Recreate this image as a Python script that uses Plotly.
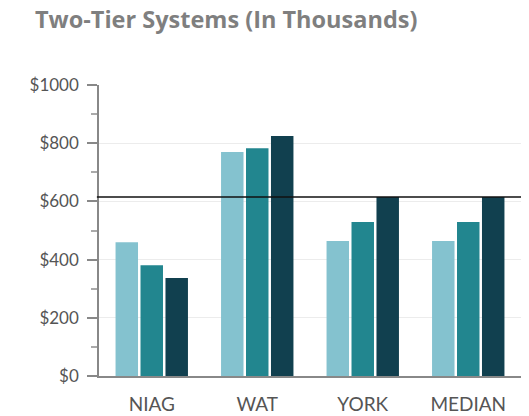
import plotly.graph_objects as go

categories = ["NIAG", "WAT", "YORK", "MEDIAN"]
series_a = [460, 770, 464, 464]
series_b = [381, 783, 529, 529]
series_c = [337, 825, 615, 615]
reference_line = 615
y_ticks = [0, 200, 400, 600, 800, 1000]
y_tick_labels = ["$0", "$200", "$400", "$600", "$800", "$1000"]
title_text = "Two-Tier Systems (In Thousands)"

colors = ["#84c2cf", "#22868f", "#11404f"]

W, H = 529, 416
ML, MR, MT, MB = 99, 8, 85, 40
fig = go.Figure()
for vals, col in zip([series_a, series_b, series_c], colors):
    fig.add_trace(go.Bar(x=categories, y=vals, marker=dict(color=col, line=dict(width=0)),
                         showlegend=False, hoverinfo="skip"))

fig.add_shape(type="line", xref="paper", yref="y", x0=-0.005, x1=1.0,
              y0=reference_line, y1=reference_line,
              line=dict(color="#111111", width=1.5))

pw, ph = W - ML - MR, H - MT - MB
fig.add_annotation(text="<b>" + title_text + "</b>", xref="paper", yref="paper",
                   x=(33 - ML) / pw, y=1 + (MT - 1) / ph, xanchor="left", yanchor="top",
                   showarrow=False,
                   font=dict(family="Open Sans", size=23.5, color="#7f7f7f"))

fig.update_layout(
    width=W, height=H,
    margin=dict(l=ML, r=MR, t=MT, b=MB),
    paper_bgcolor="white", plot_bgcolor="white",
    bargap=0.29, bargroupgap=0.1, barmode="group",
    xaxis=dict(showline=True, linecolor="#888888", linewidth=1.5, ticks="",
               tickfont=dict(family="Lato", size=19, color="#555555"),
               showgrid=False, zeroline=False, ticklabelstandoff=10,
               automargin=False),
    yaxis=dict(range=[0, 1000], tickvals=y_ticks, ticktext=y_tick_labels,
               showline=True, linecolor="#888888", linewidth=1.5,
               ticks="outside", ticklen=10, tickcolor="#888888", tickwidth=1.5,
               showgrid=True, gridcolor="#ececec", gridwidth=1,
               zeroline=False, automargin=False,
               minor=dict(dtick=100, tick0=0, ticks="outside", ticklen=6,
                          tickcolor="#aaaaaa", showgrid=False),
               tickfont=dict(family="Lato", size=17, color="#555555"),
               ticklabelstandoff=5),
)
fig.write_html("out.html", config={"displayModeBar": False},
               post_script="document.body.style.margin='0';")
